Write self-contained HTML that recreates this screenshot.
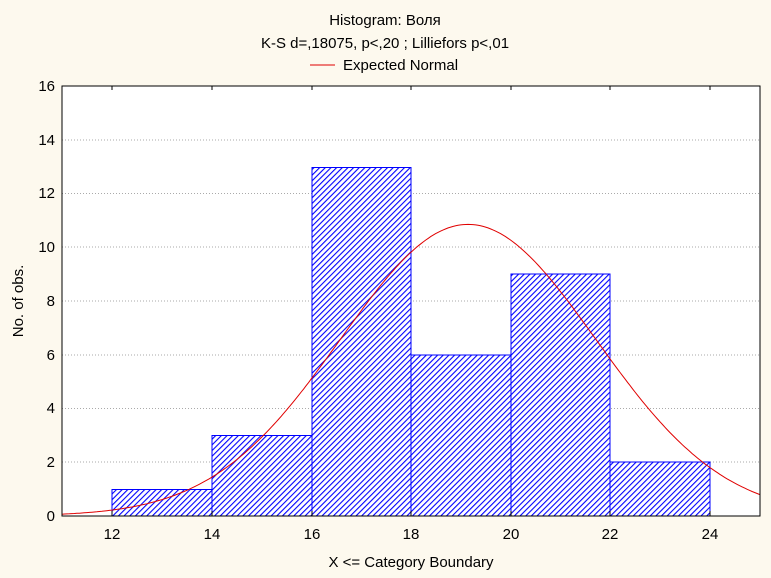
<!DOCTYPE html>
<html><head><meta charset="utf-8"><style>
html,body{margin:0;padding:0;background:#fdf9ee;}
svg{display:block;font-family:"Liberation Sans",sans-serif;}
</style></head><body>
<svg id="s" width="771" height="578" xmlns="http://www.w3.org/2000/svg">
<defs>
<pattern id="h" width="4" height="4" patternUnits="userSpaceOnUse" patternTransform="rotate(45)">
<rect width="4" height="4" fill="#fff"/>
<rect x="0" y="0" width="1.1" height="4" fill="#0000ff"/>
</pattern>
</defs>
<rect x="0" y="0" width="771" height="578" fill="#fdf9ee"/>
<rect x="62" y="86" width="698" height="430" fill="#fff"/>
<g stroke="#aaa" stroke-dasharray="1,2" stroke-width="1">
<line x1="62" x2="760" y1="140" y2="140"/>
<line x1="62" x2="760" y1="193.5" y2="193.5"/>
<line x1="62" x2="760" y1="247" y2="247"/>
<line x1="62" x2="760" y1="301" y2="301"/>
<line x1="62" x2="760" y1="355" y2="355"/>
<line x1="62" x2="760" y1="408.5" y2="408.5"/>
<line x1="62" x2="760" y1="462" y2="462"/>
</g>
<g fill="url(#h)" stroke="#0000ff" stroke-width="1">
<rect x="112" y="489.5" width="100" height="26.5"/>
<rect x="212" y="435.5" width="100" height="80.5"/>
<rect x="312" y="167.5" width="99" height="348.5"/>
<rect x="411" y="355" width="100" height="161"/>
<rect x="511" y="274" width="99" height="242"/>
<rect x="610" y="462" width="100" height="54"/>
</g>
<path id="curve" fill="none" stroke="#e00000" stroke-width="1"/>
<rect x="62" y="86" width="698" height="430" fill="none" stroke="#000" stroke-width="1"/>
<g stroke="#000">
<line x1="112" x2="112" y1="516" y2="511"/><line x1="212" x2="212" y1="516" y2="511"/>
<line x1="312" x2="312" y1="516" y2="511"/><line x1="411" x2="411" y1="516" y2="511"/>
<line x1="511" x2="511" y1="516" y2="511"/><line x1="610" x2="610" y1="516" y2="511"/>
<line x1="710" x2="710" y1="516" y2="511"/>
<line x1="112" x2="112" y1="86" y2="90"/><line x1="212" x2="212" y1="86" y2="90"/>
<line x1="312" x2="312" y1="86" y2="90"/><line x1="411" x2="411" y1="86" y2="90"/>
<line x1="511" x2="511" y1="86" y2="90"/><line x1="610" x2="610" y1="86" y2="90"/>
<line x1="710" x2="710" y1="86" y2="90"/>
</g>
<g font-size="15" fill="#000" text-anchor="end">
<text x="55" y="91">16</text><text x="55" y="145">14</text><text x="55" y="198">12</text>
<text x="55" y="252">10</text><text x="55" y="306">8</text><text x="55" y="360">6</text>
<text x="55" y="413">4</text><text x="55" y="467">2</text><text x="55" y="521">0</text>
</g>
<g font-size="15" fill="#000" text-anchor="middle">
<text x="112" y="539">12</text><text x="212" y="539">14</text><text x="312" y="539">16</text>
<text x="411" y="539">18</text><text x="511" y="539">20</text><text x="610" y="539">22</text>
<text x="710" y="539">24</text>
<text x="411" y="567">X &lt;= Category Boundary</text>
<text x="385" y="25">Histogram: Воля</text>
<text x="385" y="48">K-S d=,18075, p&lt;,20 ; Lilliefors p&lt;,01</text>
</g>
<line x1="310" x2="335" y1="65" y2="65" stroke="#e00000"/>
<text x="343" y="70" font-size="15">Expected Normal</text>
<text transform="translate(23,301) rotate(-90)" font-size="15" text-anchor="middle">No. of obs.</text>
</svg>
<script>
var d="";for(var i=0;i<=280;i++){var x=11+i*0.05;var y=10.85*Math.exp(-Math.pow(x-19.15,2)/(2*6.56));
var px=62+(x-11)*49.83,py=516-y*26.875;d+=(i?"L":"M")+px.toFixed(1)+" "+py.toFixed(1);}
document.getElementById("curve").setAttribute("d",d);
</script>
</body></html>
